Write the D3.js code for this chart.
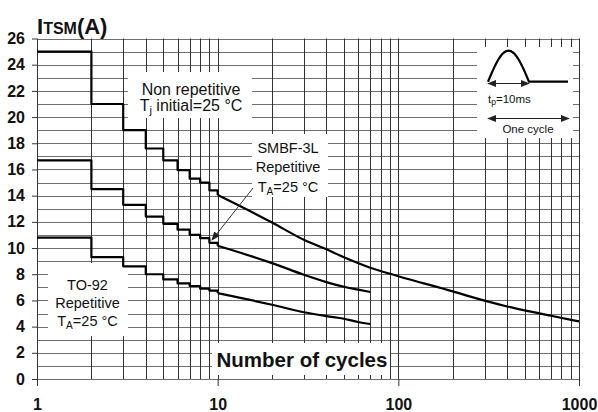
<!DOCTYPE html>
<html>
<head>
<meta charset="utf-8">
<script src="https://cdn.jsdelivr.net/npm/d3@7"></script>
<style>
  html, body { margin: 0; padding: 0; background: #fff; }
  svg { display: block; font-family: "Liberation Sans", Arial, Helvetica, sans-serif; }
</style>
</head>
<body>
<svg id="chart" width="598" height="412"></svg>
<script>
// ---- data ----
const stepCycles = [1, 2, 3, 4, 5, 6, 7, 8, 9, 10];
const nonRepStep = [25, 21, 19, 17.6, 16.7, 15.95, 15.3, 15.0, 14.4, 14.05];
const smbfStep   = [16.7, 14.5, 13.3, 12.4, 11.85, 11.4, 11.0, 10.75, 10.4, 10.17];
const to92Step   = [10.8, 9.3, 8.6, 8.0, 7.6, 7.3, 7.1, 6.9, 6.75, 6.56];

const longCycles   = [10, 20, 30, 40, 50, 70, 100, 200, 300, 400, 500, 700, 1000];
const nonRepSmooth = [14.05, 11.95, 10.63, 9.9, 9.3, 8.5, 7.85, 6.69, 5.98, 5.54, 5.24, 4.83, 4.40];
const shortCycles  = [10, 20, 30, 40, 50, 60, 70];
const smbfSmooth   = [10.17, 8.85, 7.96, 7.4, 7.04, 6.82, 6.64];
const to92Smooth   = [6.56, 5.67, 5.1, 4.8, 4.6, 4.35, 4.2];

const yTickValues = [0, 2, 4, 6, 8, 10, 12, 14, 16, 18, 20, 22, 24, 26];
const xTickValues = [1, 10, 100, 1000];
const xGridValues = [1,2,3,4,5,6,7,8,9,10,20,30,40,50,60,70,80,90,100,200,300,400,500,600,700,800,900,1000];
const yGridValues = d3.range(0, 27, 1);

// ---- scales ----
const svg = d3.select("#chart");
const x = d3.scaleLog().domain([1, 1000]).range([37, 579]);
const y = d3.scaleLinear().domain([0, 26]).range([379, 38.5]);

// ---- grid ----
const grid = svg.append("g");
grid.selectAll("line.h").data(yGridValues).join("line")
  .attr("x1", x(1)).attr("x2", x(1000))
  .attr("y1", d => Math.round(y(d)) + 0.5).attr("y2", d => Math.round(y(d)) + 0.5)
  .attr("stroke", "#707070").attr("stroke-width", 1);
grid.selectAll("line.v").data(xGridValues).join("line")
  .attr("x1", d => Math.round(x(d)) + 0.5).attr("x2", d => Math.round(x(d)) + 0.5)
  .attr("y1", y(26)).attr("y2", y(0))
  .attr("stroke", "#333").attr("stroke-width", 1);

// ---- axes ----
const yAxis = svg.append("g").attr("transform", `translate(${x(1)},0)`)
  .call(d3.axisLeft(y).tickValues(yTickValues).tickSize(5).tickPadding(7).tickFormat(d3.format("d")));
yAxis.select(".domain").remove();
yAxis.selectAll("line").attr("stroke", "#333");
yAxis.selectAll("text").attr("font-size", 16).attr("font-weight", "bold").attr("fill", "#111")
  .attr("font-family", "Liberation Sans, Arial, sans-serif");

const xAxis = svg.append("g").attr("transform", `translate(0,${y(0)})`)
  .call(d3.axisBottom(x).tickValues(xTickValues).tickSize(7).tickPadding(12.5).tickFormat(d3.format("d")));
xAxis.select(".domain").remove();
xAxis.selectAll("line").attr("stroke", "#333");
xAxis.selectAll("text").attr("font-size", 16).attr("font-weight", "bold").attr("fill", "#111")
  .attr("font-family", "Liberation Sans, Arial, sans-serif");

// ---- white label boxes ----
const boxes = [
  [128, 72, 124, 46],
  [252, 134, 76, 63],
  [48, 263, 80, 73],
  [212, 343, 178, 32],
  [477, 47, 96, 91]
];
svg.append("g").selectAll("rect").data(boxes).join("rect")
  .attr("x", d => d[0]).attr("y", d => d[1]).attr("width", d => d[2]).attr("height", d => d[3])
  .attr("fill", "#fff");

// ---- curves ----
const stepLine = d3.line().x(d => x(d[0])).y(d => y(d[1])).curve(d3.curveStepAfter);
const smoothLine = d3.line().x(d => x(d[0])).y(d => y(d[1])).curve(d3.curveMonotoneX);
const curves = svg.append("g").attr("fill", "none").attr("stroke", "#000").attr("stroke-width", 2.2)
  .attr("stroke-linejoin", "round");
[
  [stepCycles, nonRepStep, longCycles, nonRepSmooth],
  [stepCycles, smbfStep, shortCycles, smbfSmooth],
  [stepCycles, to92Step, shortCycles, to92Smooth]
].forEach(([sx, sv, cx, cv]) => {
  curves.append("path").attr("d", stepLine(sx.map((c, i) => [c, sv[i]])));
  curves.append("path").attr("d", smoothLine(cx.map((c, i) => [c, cv[i]])));
});

// ---- markers ----
const defs = svg.append("defs");
defs.append("marker").attr("id", "ah").attr("viewBox", "0 0 10 10").attr("refX", 9).attr("refY", 5)
  .attr("markerWidth", 9).attr("markerHeight", 9).attr("markerUnits", "userSpaceOnUse").attr("orient", "auto-start-reverse")
  .append("path").attr("d", "M0,1 L10,5 L0,9 Z").attr("fill", "#222");

// arrow SMBF
svg.append("line").attr("x1", 253).attr("y1", 188).attr("x2", 212).attr("y2", 240)
  .attr("stroke", "#333").attr("stroke-width", 1).attr("marker-end", "url(#ah)");

// ---- text labels ----
const txt = svg.append("g").attr("fill", "#111").attr("font-family", "Liberation Sans, Arial, sans-serif");

function taLine(g, cx, by, size, sub) {
  const t = g.append("text").attr("x", cx).attr("y", by).attr("text-anchor", "middle").attr("font-size", size);
  t.append("tspan").text("T");
  t.append("tspan").attr("font-size", size * 0.7).attr("dy", 3).text(sub.s);
  t.append("tspan").attr("dy", -3).text(sub.rest);
  return t;
}

// Non repetitive
txt.append("text").attr("x", 191).attr("y", 94.5).attr("text-anchor", "middle").attr("font-size", 16).text("Non repetitive");
taLine(txt, 191, 110.5, 16, {s: "j", rest: " initial=25 °C"});

// SMBF-3L
txt.append("text").attr("x", 288).attr("y", 153).attr("text-anchor", "middle").attr("font-size", 14.5).text("SMBF-3L");
txt.append("text").attr("x", 288).attr("y", 172).attr("text-anchor", "middle").attr("font-size", 14.5).text("Repetitive");
taLine(txt, 288, 191.5, 14.5, {s: "A", rest: "=25 °C"});

// TO-92
txt.append("text").attr("x", 87.5).attr("y", 290).attr("text-anchor", "middle").attr("font-size", 14.5).text("TO-92");
txt.append("text").attr("x", 87.5).attr("y", 307.5).attr("text-anchor", "middle").attr("font-size", 14.5).text("Repetitive");
taLine(txt, 87.5, 325.5, 14.5, {s: "A", rest: "=25 °C"});

// Number of cycles
txt.append("text").attr("x", 216.5).attr("y", 366.5).attr("font-size", 20.5).attr("font-weight", "bold").text("Number of cycles");

// Title I_TSM(A)
const title = txt.append("text").attr("x", 37).attr("y", 34).attr("font-weight", "bold");
title.append("tspan").attr("font-size", 22).text("I");
title.append("tspan").attr("font-size", 16).text("TSM");
title.append("tspan").attr("font-size", 22).text("(A)");

// ---- inset waveform ----
const inset = svg.append("g");
const wx0 = 488, wx1 = 529, wEnd = 568, wBase = 81.7, wPeak = 50.7;
const wave = d3.range(0, 41).map(i => {
  const t = i / 40;
  return [wx0 + t * (wx1 - wx0), wBase - Math.sin(Math.PI * t) * (wBase - wPeak)];
});
wave.push([wEnd, wBase]);
inset.append("path").attr("d", d3.line()(wave)).attr("fill", "none").attr("stroke", "#000").attr("stroke-width", 2.2)
  .attr("stroke-linejoin", "round");
inset.append("line").attr("x1", wx0).attr("x2", wx1).attr("y1", 83.5).attr("y2", 83.5)
  .attr("stroke", "#222").attr("stroke-width", 1).attr("marker-start", "url(#ah)").attr("marker-end", "url(#ah)");
inset.append("line").attr("x1", wx0).attr("x2", 569).attr("y1", 118.5).attr("y2", 118.5)
  .attr("stroke", "#222").attr("stroke-width", 1).attr("marker-start", "url(#ah)").attr("marker-end", "url(#ah)");
const tp = inset.append("text").attr("x", 488).attr("y", 103).attr("font-size", 11.5).attr("fill", "#111");
tp.append("tspan").text("t");
tp.append("tspan").attr("font-size", 8.5).attr("dy", 2).text("p");
tp.append("tspan").attr("dy", -2).text("=10ms");
inset.append("text").attr("x", 528).attr("y", 133).attr("text-anchor", "middle").attr("font-size", 11.5)
  .attr("fill", "#111").text("One cycle");
</script>
</body>
</html>
